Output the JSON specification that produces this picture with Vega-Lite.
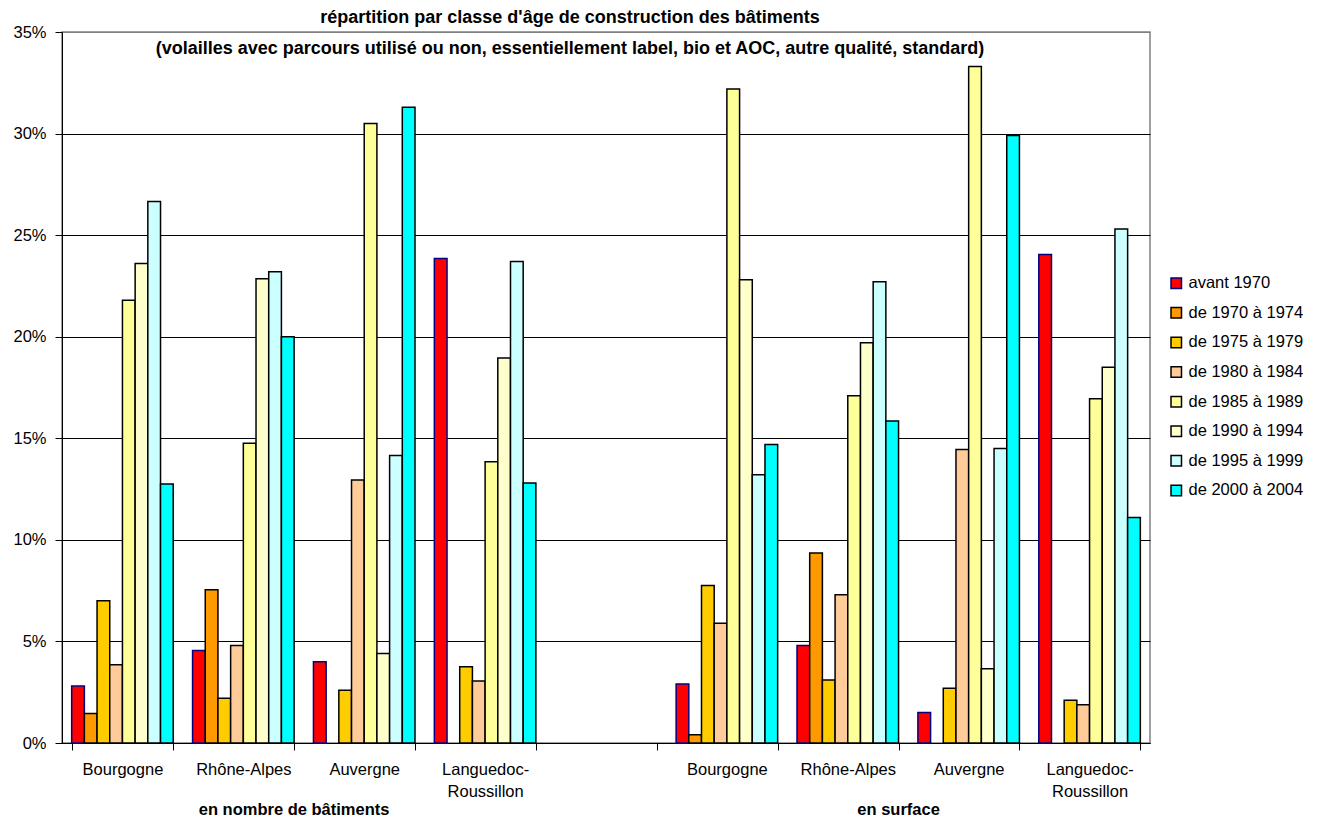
{
 "$schema": "https://vega.github.io/schema/vega-lite/v6.json",
 "width": 1088,
 "height": 711,
 "autosize": "none",
 "padding": {"left": 62, "top": 32, "right": 167, "bottom": 77},
 "background": "white",
 "config": {"font": "Liberation Sans", "view": {"stroke": "#808080", "strokeWidth": 1.5}},
 "title": {
  "text": ["répartition par classe d'âge de construction des bâtiments", "(volailles avec parcours utilisé ou non, essentiellement label, bio et AOC, autre qualité, standard)"],
  "fontSize": 18, "fontWeight": "bold", "anchor": "middle", "offset": -34, "dx": -36, "lineHeight": 31, "color": "black", "font": "Liberation Sans"
 },
 "layer": [
  {
   "data": {"values": [
    {"cat":"nombre|Bourgogne","periode":"avant 1970","pct":2.8},
    {"cat":"nombre|Bourgogne","periode":"de 1970 à 1974","pct":1.45},
    {"cat":"nombre|Bourgogne","periode":"de 1975 à 1979","pct":7.0},
    {"cat":"nombre|Bourgogne","periode":"de 1980 à 1984","pct":3.85},
    {"cat":"nombre|Bourgogne","periode":"de 1985 à 1989","pct":21.8},
    {"cat":"nombre|Bourgogne","periode":"de 1990 à 1994","pct":23.6},
    {"cat":"nombre|Bourgogne","periode":"de 1995 à 1999","pct":26.65},
    {"cat":"nombre|Bourgogne","periode":"de 2000 à 2004","pct":12.75},
    {"cat":"nombre|Rhône-Alpes","periode":"avant 1970","pct":4.55},
    {"cat":"nombre|Rhône-Alpes","periode":"de 1970 à 1974","pct":7.55},
    {"cat":"nombre|Rhône-Alpes","periode":"de 1975 à 1979","pct":2.2},
    {"cat":"nombre|Rhône-Alpes","periode":"de 1980 à 1984","pct":4.8},
    {"cat":"nombre|Rhône-Alpes","periode":"de 1985 à 1989","pct":14.75},
    {"cat":"nombre|Rhône-Alpes","periode":"de 1990 à 1994","pct":22.85},
    {"cat":"nombre|Rhône-Alpes","periode":"de 1995 à 1999","pct":23.2},
    {"cat":"nombre|Rhône-Alpes","periode":"de 2000 à 2004","pct":20.0},
    {"cat":"nombre|Auvergne","periode":"avant 1970","pct":4.0},
    {"cat":"nombre|Auvergne","periode":"de 1975 à 1979","pct":2.6},
    {"cat":"nombre|Auvergne","periode":"de 1980 à 1984","pct":12.95},
    {"cat":"nombre|Auvergne","periode":"de 1985 à 1989","pct":30.5},
    {"cat":"nombre|Auvergne","periode":"de 1990 à 1994","pct":4.4},
    {"cat":"nombre|Auvergne","periode":"de 1995 à 1999","pct":14.15},
    {"cat":"nombre|Auvergne","periode":"de 2000 à 2004","pct":31.3},
    {"cat":"nombre|Languedoc-Roussillon","periode":"avant 1970","pct":23.85},
    {"cat":"nombre|Languedoc-Roussillon","periode":"de 1975 à 1979","pct":3.75},
    {"cat":"nombre|Languedoc-Roussillon","periode":"de 1980 à 1984","pct":3.05},
    {"cat":"nombre|Languedoc-Roussillon","periode":"de 1985 à 1989","pct":13.85},
    {"cat":"nombre|Languedoc-Roussillon","periode":"de 1990 à 1994","pct":18.95},
    {"cat":"nombre|Languedoc-Roussillon","periode":"de 1995 à 1999","pct":23.7},
    {"cat":"nombre|Languedoc-Roussillon","periode":"de 2000 à 2004","pct":12.8},
    {"cat":"surface|Bourgogne","periode":"avant 1970","pct":2.9},
    {"cat":"surface|Bourgogne","periode":"de 1970 à 1974","pct":0.4},
    {"cat":"surface|Bourgogne","periode":"de 1975 à 1979","pct":7.75},
    {"cat":"surface|Bourgogne","periode":"de 1980 à 1984","pct":5.9},
    {"cat":"surface|Bourgogne","periode":"de 1985 à 1989","pct":32.2},
    {"cat":"surface|Bourgogne","periode":"de 1990 à 1994","pct":22.8},
    {"cat":"surface|Bourgogne","periode":"de 1995 à 1999","pct":13.2},
    {"cat":"surface|Bourgogne","periode":"de 2000 à 2004","pct":14.7},
    {"cat":"surface|Rhône-Alpes","periode":"avant 1970","pct":4.8},
    {"cat":"surface|Rhône-Alpes","periode":"de 1970 à 1974","pct":9.35},
    {"cat":"surface|Rhône-Alpes","periode":"de 1975 à 1979","pct":3.1},
    {"cat":"surface|Rhône-Alpes","periode":"de 1980 à 1984","pct":7.3},
    {"cat":"surface|Rhône-Alpes","periode":"de 1985 à 1989","pct":17.1},
    {"cat":"surface|Rhône-Alpes","periode":"de 1990 à 1994","pct":19.7},
    {"cat":"surface|Rhône-Alpes","periode":"de 1995 à 1999","pct":22.7},
    {"cat":"surface|Rhône-Alpes","periode":"de 2000 à 2004","pct":15.85},
    {"cat":"surface|Auvergne","periode":"avant 1970","pct":1.5},
    {"cat":"surface|Auvergne","periode":"de 1975 à 1979","pct":2.7},
    {"cat":"surface|Auvergne","periode":"de 1980 à 1984","pct":14.45},
    {"cat":"surface|Auvergne","periode":"de 1985 à 1989","pct":33.3},
    {"cat":"surface|Auvergne","periode":"de 1990 à 1994","pct":3.65},
    {"cat":"surface|Auvergne","periode":"de 1995 à 1999","pct":14.5},
    {"cat":"surface|Auvergne","periode":"de 2000 à 2004","pct":29.9},
    {"cat":"surface|Languedoc-Roussillon","periode":"avant 1970","pct":24.05},
    {"cat":"surface|Languedoc-Roussillon","periode":"de 1975 à 1979","pct":2.1},
    {"cat":"surface|Languedoc-Roussillon","periode":"de 1980 à 1984","pct":1.88},
    {"cat":"surface|Languedoc-Roussillon","periode":"de 1985 à 1989","pct":16.95},
    {"cat":"surface|Languedoc-Roussillon","periode":"de 1990 à 1994","pct":18.5},
    {"cat":"surface|Languedoc-Roussillon","periode":"de 1995 à 1999","pct":25.3},
    {"cat":"surface|Languedoc-Roussillon","periode":"de 2000 à 2004","pct":11.1}
   ]},
   "mark": {"type": "bar", "strokeWidth": 1.5},
   "encoding": {
    "x": {
     "field": "cat", "type": "nominal",
     "scale": {"domain": ["nombre|Bourgogne","nombre|Rhône-Alpes","nombre|Auvergne","nombre|Languedoc-Roussillon","vide","surface|Bourgogne","surface|Rhône-Alpes","surface|Auvergne","surface|Languedoc-Roussillon"], "paddingInner": 0.16, "paddingOuter": 0.08},
     "axis": {
      "title": null, "labelAngle": 0, "tickBand": "extent", "tickSize": 7, "labelPadding": 11,
      "labelFontSize": 16.5, "labelColor": "black", "labelLineHeight": 22,
      "domainColor": "black", "tickColor": "black", "domainWidth": 1, "grid": false,
      "labelExpr": "datum.label == 'vide' ? '' : (split(datum.label, '|')[1] == 'Languedoc-Roussillon' ? ['Languedoc-', 'Roussillon'] : split(datum.label, '|')[1])"
     }
    },
    "xOffset": {
     "field": "periode", "type": "nominal",
     "scale": {"domain": ["avant 1970","de 1970 à 1974","de 1975 à 1979","de 1980 à 1984","de 1985 à 1989","de 1990 à 1994","de 1995 à 1999","de 2000 à 2004"], "paddingInner": 0, "paddingOuter": 0}
    },
    "y": {
     "field": "pct", "type": "quantitative",
     "scale": {"domain": [0, 35], "nice": false},
     "axis": {
      "title": null, "values": [0,5,10,15,20,25,30,35], "labelExpr": "datum.value + '%'",
      "labelFontSize": 16.5, "labelColor": "black", "tickSize": 7, "labelPadding": 9,
      "domainColor": "black", "tickColor": "black", "grid": true,
      "gridColor": {"expr": "datum.value == 35 ? '#808080' : 'black'"}, "gridWidth": 1
     }
    },
    "fill": {
     "field": "periode", "type": "nominal",
     "scale": {"domain": ["avant 1970","de 1970 à 1974","de 1975 à 1979","de 1980 à 1984","de 1985 à 1989","de 1990 à 1994","de 1995 à 1999","de 2000 à 2004"],
               "range": ["#FF0000","#FF9900","#FFCC00","#FFCC99","#FFFF99","#FFFFCC","#CCFFFF","#00FFFF"]},
     "legend": {"orient": "none", "legendX": 1106, "legendY": 243, "title": null, "labelFontSize": 16.5, "labelColor": "black", "symbolType": "square", "symbolSize": 110, "symbolStrokeWidth": 1.5, "rowPadding": 12.6, "labelOffset": 4}
    },
    "stroke": {
     "field": "periode", "type": "nominal",
     "scale": {"domain": ["avant 1970","de 1970 à 1974","de 1975 à 1979","de 1980 à 1984","de 1985 à 1989","de 1990 à 1994","de 1995 à 1999","de 2000 à 2004"],
               "range": ["#000080","#000000","#000000","#000000","#000000","#000000","#000000","#000000"]},
     "legend": {"orient": "none", "legendX": 1106, "legendY": 243, "title": null, "labelFontSize": 16.5, "labelColor": "black", "symbolType": "square", "symbolSize": 110, "symbolStrokeWidth": 1.5, "rowPadding": 12.6, "labelOffset": 4}
    }
   }
  },
  {
   "data": {"values": [
    {"cat": "nombre|Rhône-Alpes", "libelle": "en nombre de bâtiments"},
    {"cat": "surface|Rhône-Alpes", "libelle": "en surface"}
   ]},
   "mark": {"type": "text", "fontSize": 16.5, "fontWeight": "bold", "color": "black", "baseline": "middle", "align": "center", "dy": 67},
   "encoding": {
    "x": {"field": "cat", "type": "nominal", "bandPosition": 1},
    "y": {"datum": 0, "type": "quantitative"},
    "text": {"field": "libelle"}
   }
  }
 ]
}
